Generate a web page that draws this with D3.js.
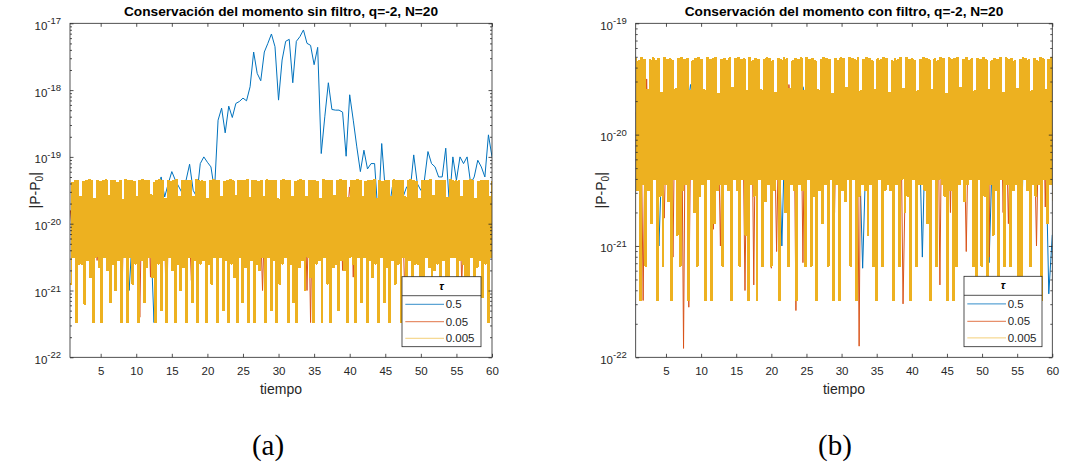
<!DOCTYPE html>
<html><head><meta charset="utf-8">
<script src="https://cdn.jsdelivr.net/npm/d3@7"></script>
<style>
body{margin:0;background:#fff}
svg{display:block}
text{font-family:"Liberation Sans",Arial,Helvetica,sans-serif}
</style>
</head><body>
<svg id="chart" width="1069" height="466"></svg>
<script>
// ---------------- DATA ----------------
const titles = ["Conservación del momento sin filtro, q=-2, N=20", "Conservación del momento con filtro, q=-2, N=20"];
const captions = ["(a)", "(b)"];
const xLabel = "tiempo";
const xTickValues = [5,10,15,20,25,30,35,40,45,50,55,60];
const yTickExpA = [-22,-21,-20,-19,-18,-17];
const yTickExpB = [-22,-21,-20,-19];
const xDomain = [0.69, 60];
const legendTitle = "τ";
const seriesLabels = ["0.5", "0.05", "0.005"];
const seriesColors = ["#0072BD", "#D95319", "#EDB120"];

// time grids (start, step) for each tau
const blueGrid = [1.0, 0.5];
const orangeGrid = [0.75, 0.25];
const yellowStartA = 0.7, yellowStartB = 0.63;

// values are log10(|P-P0|)
const blueA = [
-19.8,-20.1,-19.6,-20.1,-19.75,-20.05,-19.8,-20.1,-19.75,-20.1,
-19.7,-20.05,-19.8,-20.1,-19.75,-20.1,-21.0,-20.1,-20.55,-19.8,
-20.05,-19.75,-20.1,-21.48,-19.5,-19.3,-19.6,-19.4,-19.22,-19.35,
-19.45,-19.55,-19.35,-19.11,-19.5,-19.6,-19.1,-19.0,-19.08,-19.15,
-19.5,-18.45,-18.27,-18.64,-18.24,-18.41,-18.2,-18.17,-18.12,-18.16,
-17.95,-17.43,-17.75,-17.86,-17.43,-17.3,-17.16,-17.35,-18.15,-17.55,
-17.27,-17.24,-17.89,-17.27,-17.2,-17.1,-17.3,-17.33,-17.62,-17.36,
-18.95,-18.4,-17.89,-18.29,-18.3,-18.3,-18.33,-18.99,-18.07,-18.45,
-18.85,-19.22,-18.9,-19.18,-19.1,-19.1,-19.9,-18.8,-19.5,-19.8,
-19.45,-19.9,-19.5,-19.6,-19.45,-19.5,-18.97,-19.4,-19.5,-19.35,
-18.92,-19.1,-19.15,-19.3,-19.3,-18.87,-19.7,-19.0,-19.35,-19.0,
-19.1,-19.0,-19.4,-19.3,-19.05,-19.15,-19.3,-18.67,-19.0
];
const orangeA = [
-19.8,-20.1,-19.75,-20.05,-20.5,-20.1,-19.8,-20.15,-19.75,-20.1,
-19.8,-20.05,-19.7,-20.1,-19.8,-20.55,-19.75,-20.1,-19.8,-20.05,
-19.75,-20.1,-19.8,-20.15,-19.7,-20.1,-19.8,-20.05,-19.75,-21.1,
-19.8,-20.1,-20.9,-20.05,-19.75,-20.1,-19.8,-20.15,-19.7,-21.4,
-19.8,-20.1,-19.75,-20.05,-19.8,-20.8,-19.75,-20.1,-19.8,-20.05,
-19.7,-20.1,-19.8,-20.15,-21.48,-20.1,-19.75,-20.05,-19.8,-20.1,
-19.75,-20.1,-19.8,-20.05,-19.7,-20.1,-19.8,-20.15,-20.85,-20.1,
-19.8,-20.05,-19.75,-20.1,-19.8,-20.1,-19.7,-20.05,-19.8,-20.1,
-19.75,-19.45,-19.8,-20.1,-19.75,-20.05,-19.8,-20.15,-19.7,-20.1,
-19.8,-20.05,-19.75,-20.6,-19.8,-20.1,-19.75,-20.45,-19.8,-20.1,
-19.7,-20.05,-19.8,-20.1,-19.75,-20.15,-19.45,-20.1,-21.0,-20.05,
-19.8,-20.1,-19.75,-20.05,-19.8,-20.1,-19.7,-20.15,-19.8,-20.1,
-19.75,-20.05,-19.8,-20.1,-19.75,-20.1,-19.8,-20.05,-19.7,-20.1,
-19.8,-19.45,-19.75,-21.0,-19.8,-21.48,-19.75,-20.1,-19.8,-20.05,
-19.7,-20.1,-19.8,-20.15,-19.75,-20.1,-19.8,-20.05,-19.75,-20.1,
-19.8,-20.1,-19.7,-20.7,-19.8,-20.05,-19.75,-19.45,-19.8,-20.8,
-19.75,-20.1,-19.8,-20.05,-19.7,-20.1,-19.8,-20.15,-19.75,-20.1,
-19.8,-20.05,-19.75,-20.1,-19.8,-20.1,-19.7,-20.05,-19.8,-20.1,
-19.75,-20.1,-19.8,-20.15,-19.75,-20.05,-19.8,-20.1,-21.1,-20.1,
-19.7,-20.05,-19.8,-20.1,-19.75,-20.15,-19.8,-20.1,-19.75,-20.05,
-19.8,-20.1,-19.7,-20.1,-19.8,-20.05,-19.75,-20.15,-19.8,-20.1,
-19.75,-20.05,-19.8,-20.1,-19.7,-20.1,-19.8,-20.05,-20.45,-19.9,
-20.9,-20.1,-19.8,-20.05,-19.75,-20.1,-19.8,-20.15,-19.7,-20.1,
-19.8,-20.05,-19.75,-20.1,-19.8,-20.1,-19.75,-20.05
];
const yellowA = [
-20.9,-19.38,-20.5,-19.36,-21.48,-19.35,-20.6,-19.6,-20.6,-19.37,
-21.2,-19.35,-20.55,-19.34,-20.8,-19.36,-21.48,-19.62,-20.5,-19.35,
-20.65,-19.37,-21.48,-19.35,-20.5,-19.34,-20.7,-19.58,-21.18,-19.36,
-20.6,-19.35,-21.0,-19.38,-20.55,-19.35,-21.48,-19.64,-20.5,-19.34,
-21.48,-19.36,-20.5,-19.35,-20.9,-19.37,-20.6,-19.6,-21.48,-19.35,
-20.55,-19.34,-21.18,-19.36,-20.65,-19.35,-20.5,-19.57,-20.8,-19.38,
-21.48,-19.35,-20.6,-19.34,-21.3,-19.36,-20.55,-19.63,-21.48,-19.35,
-20.5,-19.37,-20.7,-19.35,-21.48,-19.34,-20.6,-19.6,-21.0,-19.36,
-20.65,-19.35,-21.48,-19.36,-20.5,-19.35,-21.18,-19.59,-20.55,-19.34,
-21.48,-19.36,-20.6,-19.35,-20.55,-19.37,-21.48,-19.62,-20.6,-19.35,
-20.9,-19.34,-20.5,-19.36,-21.48,-19.35,-20.5,-19.6,-21.3,-19.37,
-20.55,-19.35,-21.48,-19.34,-20.6,-19.36,-20.8,-19.58,-21.48,-19.35,
-20.5,-19.36,-21.18,-19.35,-20.65,-19.34,-21.48,-19.61,-20.55,-19.36,
-21.48,-19.35,-20.6,-19.37,-20.7,-19.35,-20.5,-19.6,-21.48,-19.34,
-20.5,-19.36,-21.3,-19.35,-20.55,-19.36,-21.48,-19.63,-20.9,-19.35,
-20.6,-19.34,-20.5,-19.36,-21.48,-19.35,-20.6,-19.59,-21.18,-19.37,
-21.48,-19.35,-20.65,-19.34,-20.55,-19.36,-21.0,-19.6,-20.5,-19.35,
-20.8,-19.36,-21.48,-19.35,-20.6,-19.37,-20.55,-19.62,-21.48,-19.34,
-20.5,-19.35,-20.9,-19.36,-21.48,-19.35,-20.65,-19.58,-20.6,-19.36,
-21.3,-19.34,-20.55,-19.35,-20.7,-19.36,-21.48,-19.61,-20.5,-19.35,
-20.6,-19.36,-21.48,-19.34,-20.5,-19.35,-21.18,-19.6,-20.5,-19.37,
-21.48,-19.35,-20.55,-19.36,-20.8,-19.34,-20.6,-19.63,-21.48,-19.35,
-20.5,-19.37,-21.18,-19.35,-20.65,-19.36,-21.48,-19.59,-20.55,-19.34,
-20.9,-19.35,-20.6,-19.36,-21.48,-19.35,-20.5,-19.6,-21.3,-19.36,
-20.55,-19.34,-21.48,-19.35,-20.6,-19.37,-20.6,-19.62,-21.48,-19.35,
-21.0,-19.36,-20.5,-19.35,-20.65,-19.34,-21.48,-19.58,-20.7,-19.36,
-20.6,-19.35,-21.48,-19.36,-20.55,-19.35,-20.9,-19.61,-21.48,-19.34,
-20.5,-19.36,-20.5,-19.35,-21.18,-19.36,-20.55,-19.6,-20.6,-19.35,
-21.48,-19.35,-20.8,-19.34,-20.5,-19.36,-21.48,-19.63,-20.65,-19.37,
-20.55,-19.35,-21.1,-19.36,-20.6,-19.35,-21.48,-19.59,-20.5,-19.36
];
const blueB = [
-19.8,-20.1,-19.75,-20.05,-19.8,-20.1,-21.0,-20.05,-19.75,-20.1,
-19.8,-20.05,-19.7,-20.1,-19.8,-19.55,-19.75,-20.1,-19.8,-20.05,
-19.75,-20.1,-19.8,-20.15,-19.7,-20.1,-19.8,-20.05,-19.75,-20.1,
-19.8,-20.1,-19.75,-20.05,-19.8,-20.1,-19.7,-20.15,-19.8,-20.1,
-19.75,-21.0,-19.8,-20.05,-19.75,-20.1,-19.8,-19.57,-19.7,-20.1,
-19.8,-20.05,-19.75,-20.1,-19.8,-20.1,-19.75,-20.05,-19.8,-20.1,
-19.7,-20.1,-19.8,-20.05,-21.2,-20.1,-19.75,-20.05,-19.8,-20.1,
-19.75,-20.1,-19.8,-20.15,-19.7,-20.1,-19.8,-20.05,-19.75,-20.1,
-19.8,-21.1,-19.75,-20.05,-19.8,-20.1,-19.7,-20.15,-19.8,-20.1,
-19.75,-20.05,-19.8,-20.1,-19.75,-20.1,-19.8,-20.05,-19.7,-20.1,
-21.15,-20.1,-19.75,-20.05,-19.8,-20.1,-19.75,-20.15,-19.8,-21.2,
-19.8,-20.1,-19.75,-20.05,-19.8,-20.1,-19.9,-21.43,-20.9
];
const orangeB = [
-19.8,-20.1,-19.75,-20.05,-21.49,-20.1,-19.5,-20.15,-19.75,-20.1,
-19.8,-20.05,-19.7,-20.1,-19.8,-20.1,-20.75,-20.1,-19.8,-20.05,
-19.75,-21.1,-19.8,-20.15,-19.7,-21.15,-19.8,-21.92,-19.75,-20.1,
-21.55,-20.1,-19.8,-20.05,-19.75,-20.1,-19.8,-20.15,-19.7,-20.1,
-19.8,-20.1,-19.75,-20.05,-20.85,-20.1,-19.75,-20.1,-21.0,-20.05,
-19.7,-20.1,-19.8,-20.15,-19.75,-20.1,-19.75,-20.05,-19.8,-20.1,
-19.75,-20.1,-21.4,-20.05,-19.7,-20.1,-19.8,-21.35,-19.8,-20.1,
-19.8,-20.05,-19.75,-20.1,-19.8,-20.1,-19.7,-21.2,-19.8,-20.1,
-21.05,-20.1,-19.8,-20.1,-19.75,-20.05,-19.8,-19.55,-19.7,-20.1,
-19.8,-21.58,-19.75,-20.1,-19.8,-21.15,-19.75,-20.05,-19.8,-20.1,
-19.7,-20.05,-19.8,-20.1,-19.75,-20.15,-19.8,-20.1,-19.75,-20.05,
-19.8,-20.1,-19.75,-20.7,-19.8,-20.1,-19.7,-20.15,-19.8,-20.1,
-19.75,-20.05,-19.8,-20.1,-19.75,-20.1,-19.8,-21.9,-19.7,-20.1,
-19.8,-20.1,-19.75,-20.05,-19.8,-19.55,-19.75,-20.1,-19.8,-20.05,
-19.7,-20.1,-20.45,-20.15,-19.75,-20.1,-19.8,-20.05,-19.75,-20.1,
-19.8,-20.1,-21.52,-20.65,-19.8,-20.05,-19.75,-20.1,-19.8,-20.1,
-19.75,-20.1,-19.8,-20.05,-19.7,-20.1,-19.45,-20.15,-19.75,-20.1,
-19.8,-20.05,-19.75,-21.35,-19.8,-20.1,-19.7,-20.05,-19.8,-20.7,
-19.75,-20.1,-19.8,-20.15,-19.75,-20.05,-19.8,-20.1,-21.05,-20.1,
-19.7,-20.05,-19.8,-20.1,-19.75,-20.15,-19.8,-20.1,-19.75,-20.05,
-19.8,-21.1,-19.7,-20.1,-19.8,-20.05,-19.75,-20.15,-19.8,-20.7,
-19.75,-20.05,-20.8,-20.1,-19.7,-20.1,-19.8,-20.05,-19.75,-20.1,
-19.8,-20.1,-19.8,-20.05,-19.75,-20.1,-19.8,-20.15,-21.0,-20.1,
-19.8,-20.05,-19.75,-20.65,-19.8,-20.1,-19.75,-20.05
];
const yellowB = [
-19.32,-20.5,-19.34,-21.49,-19.31,-20.45,-19.33,-21.18,-19.6,-20.5,
-19.33,-20.8,-19.31,-20.4,-19.34,-21.49,-19.32,-20.55,-19.62,-21.18,
-19.31,-20.45,-19.33,-20.6,-19.32,-21.49,-19.34,-20.4,-19.59,-20.9,
-19.32,-21.18,-19.31,-20.5,-19.33,-20.45,-19.32,-21.49,-19.61,-20.4,
-19.34,-20.7,-19.32,-21.18,-19.31,-20.55,-19.33,-20.45,-19.6,-21.49,
-19.31,-20.4,-19.33,-21.49,-19.32,-20.8,-19.31,-20.5,-19.63,-20.45,
-19.33,-21.18,-19.32,-20.45,-19.34,-20.5,-19.31,-21.49,-19.58,-20.4,
-19.32,-20.5,-19.31,-21.18,-19.33,-20.4,-19.32,-20.9,-19.61,-21.49,
-19.31,-20.45,-19.34,-20.55,-19.32,-21.49,-19.33,-20.4,-19.6,-21.18,
-19.33,-20.6,-19.31,-20.45,-19.32,-21.18,-19.34,-20.5,-19.62,-20.4,
-19.32,-21.49,-19.33,-20.4,-19.31,-20.7,-19.32,-21.18,-19.59,-20.45,
-19.34,-20.5,-19.32,-21.49,-19.33,-20.45,-19.31,-20.5,-19.61,-21.18,
-19.31,-20.4,-19.33,-21.18,-19.32,-20.55,-19.34,-21.49,-19.6,-20.5,
-19.33,-20.8,-19.31,-20.45,-19.32,-21.18,-19.33,-20.4,-19.63,-21.49,
-19.32,-20.45,-19.34,-21.49,-19.31,-20.5,-19.32,-20.6,-19.58,-20.4,
-19.31,-21.18,-19.32,-20.4,-19.33,-21.49,-19.31,-20.55,-19.61,-20.45,
-19.33,-20.5,-19.31,-20.9,-19.32,-20.45,-19.34,-21.18,-19.6,-21.49,
-19.32,-20.4,-19.33,-21.18,-19.31,-20.5,-19.32,-20.45,-19.62,-20.5,
-19.34,-21.49,-19.32,-20.45,-19.33,-21.18,-19.31,-20.4,-19.59,-20.7,
-19.31,-20.55,-19.33,-21.49,-19.32,-20.4,-19.34,-21.18,-19.61,-20.45,
-19.33,-20.45,-19.31,-20.5,-19.32,-20.8,-19.33,-21.49,-19.6,-20.4,
-19.32,-21.18,-19.34,-20.4,-19.31,-20.45,-19.32,-20.55,-19.63,-21.49,
-19.31,-20.5,-19.33,-21.49,-19.32,-21.18,-19.31,-20.45,-19.58,-20.4,
-19.33,-20.6,-19.31,-20.45,-19.34,-20.4,-19.32,-21.18,-19.61,-21.49,
-19.32,-20.4,-19.33,-21.18,-19.31,-20.55,-19.33,-21.49,-19.6,-20.45,
-19.34,-20.9,-19.32,-20.5,-19.33,-21.49,-19.31,-20.4,-19.62,-21.18,
-19.31,-20.45,-19.33,-21.18,-19.32,-20.5,-19.34,-20.45,-19.59,-21.49,
-19.33,-21.49,-19.31,-20.4,-19.32,-20.5,-19.33,-21.18,-19.61,-20.45,
-19.32,-20.55,-19.34,-20.45,-19.31,-21.49,-19.32,-20.4,-19.6,-20.8,
-19.33,-20.45,-19.31,-20.6
];

// ---------------- LAYOUT ----------------
const svg = d3.select("#chart");
const axisColor = "#262626";
const panels = [
  {left:70, right:492, top:23.3, bottom:357.3, yExp:yTickExpA, title:titles[0], caption:captions[0], capX:268,
   series:[[blueA, blueGrid[0], blueGrid[1]], [orangeA, orangeGrid[0], orangeGrid[1]], [yellowA, yellowStartA, null]],
   legend:{x:402, y:276.7, w:79, h:70}},
  {left:635.7, right:1052.3, top:23.3, bottom:357.3, yExp:yTickExpB, title:titles[1], caption:captions[1], capX:835,
   series:[[blueB, blueGrid[0], blueGrid[1]], [orangeB, orangeGrid[0], orangeGrid[1]], [yellowB, yellowStartB, null]],
   legend:{x:964, y:276.3, w:78, h:70.4}}
];

panels.forEach((p, pi) => {
  const g = svg.append("g");
  const x = d3.scaleLinear().domain(xDomain).range([p.left, p.right]);
  const yMin = Math.pow(10, d3.min(p.yExp)), yMax = Math.pow(10, d3.max(p.yExp));
  const y = d3.scaleLog().domain([yMin, yMax]).range([p.bottom, p.top]);

  const clipId = "clip" + pi;
  svg.append("clipPath").attr("id", clipId).append("rect")
    .attr("x", p.left).attr("y", p.top).attr("width", p.right - p.left).attr("height", p.bottom - p.top);

  const lineLinear = d3.line().x(d => x(d[0])).y(d => y(Math.pow(10, d[1])));
  // the densest series (tau = 0.005) fills every pixel column, drawn as a step trace
  const lineDense = d3.line().curve(d3.curveStepAfter).x(d => x(d[0])).y(d => y(Math.pow(10, d[1])));
  const dg = g.append("g").attr("clip-path", `url(#${clipId})`);
  p.series.forEach((s, si) => {
    const vals = s[0], t0 = s[1];
    const step = s[2] != null ? s[2] : (xDomain[1] - t0) / (vals.length - 1);
    const pts = vals.map((v, i) => [t0 + i * step, v]);
    const path = dg.append("path").attr("d", (si === 2 ? lineDense : lineLinear)(pts)).attr("fill", "none")
      .attr("stroke", seriesColors[si])
      .attr("stroke-width", si === 2 ? 1.5 : 1)
      .attr("stroke-linejoin", "round");
    if (si === 2) path.attr("shape-rendering", "crispEdges");
  });

  // box
  g.append("rect").attr("x", p.left).attr("y", p.top).attr("width", p.right - p.left).attr("height", p.bottom - p.top)
    .attr("fill", "none").attr("stroke", axisColor).attr("stroke-width", 0.8);

  const styleAxis = sel => { sel.select(".domain").remove(); sel.selectAll("line").attr("stroke", axisColor).attr("stroke-width", 0.8); };

  // x axes
  const xb = g.append("g").attr("transform", `translate(0,${p.bottom})`)
    .call(d3.axisBottom(x).tickValues(xTickValues).tickSizeInner(-3.5).tickSizeOuter(0).tickPadding(10).tickFormat(d3.format("d")));
  styleAxis(xb);
  xb.selectAll("text").attr("fill", axisColor).attr("font-size", 11.5).attr("font-family", '"Liberation Sans",Arial,sans-serif');
  const xt = g.append("g").attr("transform", `translate(0,${p.top})`)
    .call(d3.axisTop(x).tickValues(xTickValues).tickSizeInner(-3.5).tickSizeOuter(0).tickFormat(""));
  styleAxis(xt);

  // y axes: major + minor
  const majors = p.yExp.map(e => Math.pow(10, e));
  const minors = y.ticks().filter(v => Math.abs(Math.log10(v) - Math.round(Math.log10(v))) > 1e-6);
  [[d3.axisLeft, p.left], [d3.axisRight, p.right]].forEach(([fn, px]) => {
    const a1 = g.append("g").attr("transform", `translate(${px},0)`)
      .call(fn(y).tickValues(majors).tickSizeInner(-3.5).tickSizeOuter(0).tickFormat(""));
    styleAxis(a1);
    const a2 = g.append("g").attr("transform", `translate(${px},0)`)
      .call(fn(y).tickValues(minors).tickSizeInner(-2).tickSizeOuter(0).tickFormat(""));
    styleAxis(a2);
  });
  // y tick labels 10^e
  p.yExp.forEach(e => {
    const t = g.append("text").attr("x", p.left - 35.5).attr("y", y(Math.pow(10, e)) + 6.5)
      .attr("fill", axisColor).attr("font-size", 11.5);
    t.append("tspan").text("10");
    t.append("tspan").attr("dy", -5.5).attr("font-size", 9.5).text(String(e));
  });

  // title
  g.append("text").attr("x", (p.left + p.right) / 2).attr("y", 15.5).attr("text-anchor", "middle")
    .attr("font-weight", "bold").attr("font-size", 13.7).attr("fill", "#000").text(p.title);
  // x label
  g.append("text").attr("x", (p.left + p.right) / 2).attr("y", 394).attr("text-anchor", "middle")
    .attr("font-size", 14).attr("fill", axisColor).text(xLabel);
  // y label
  const yl = g.append("text").attr("transform", `translate(${p.left - 30},${(p.top + p.bottom) / 2}) rotate(-90)`)
    .attr("text-anchor", "middle").attr("font-size", 14).attr("fill", axisColor);
  yl.append("tspan").text("|P-P");
  yl.append("tspan").attr("dy", 3).attr("font-size", 10).text("0");
  yl.append("tspan").attr("dy", -3).text("|");

  // legend
  const L = p.legend;
  const lg = g.append("g");
  lg.append("rect").attr("x", L.x).attr("y", L.y).attr("width", L.w).attr("height", L.h)
    .attr("fill", "#fff").attr("stroke", axisColor).attr("stroke-width", 0.8);
  lg.append("line").attr("x1", L.x).attr("x2", L.x + L.w).attr("y1", L.y + 19).attr("y2", L.y + 19)
    .attr("stroke", axisColor).attr("stroke-width", 0.8);
  lg.append("text").attr("x", L.x + L.w / 2).attr("y", L.y + 13).attr("text-anchor", "middle")
    .attr("font-size", 11).attr("font-weight", "bold").attr("font-style", "italic").attr("fill", "#000").text(legendTitle);
  const rowY = [27.6, 45, 61.6];
  seriesLabels.forEach((lab, i) => {
    const yy = L.y + rowY[i];
    lg.append("line").attr("x1", L.x + 3.3).attr("x2", L.x + 42).attr("y1", yy).attr("y2", yy)
      .attr("stroke", seriesColors[i]).attr("stroke-width", 1).attr("stroke-opacity", i === 2 ? 0.6 : 0.8);
    lg.append("text").attr("x", L.x + 43.7).attr("y", yy + 4).attr("font-size", 11.5).attr("fill", axisColor).text(lab);
  });

  // caption
  svg.append("text").attr("x", p.capX).attr("y", 455).attr("text-anchor", "middle")
    .attr("font-size", 29).attr("fill", "#000")
    .style("font-family", '"Liberation Serif","DejaVu Serif",serif').text(p.caption);
});
</script>
</body></html>
